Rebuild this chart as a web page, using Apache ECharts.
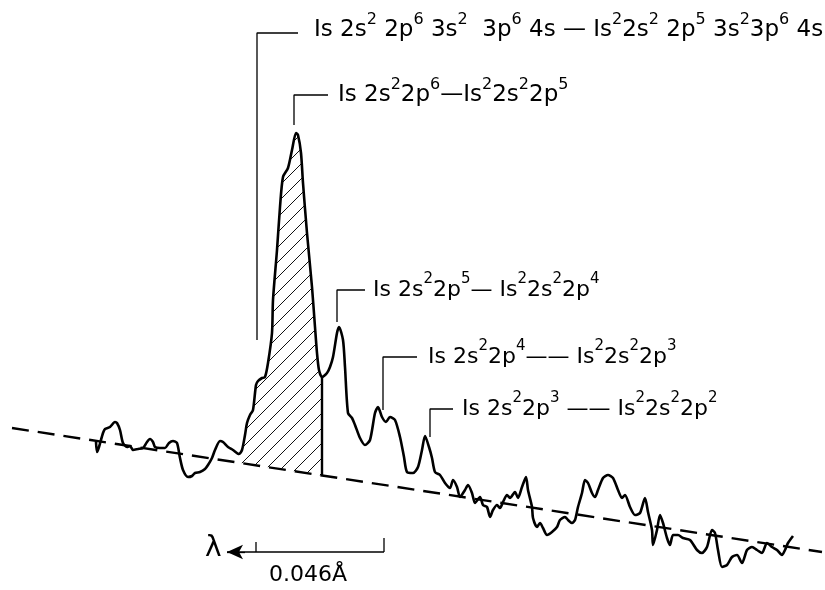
<!DOCTYPE html>
<html><head><meta charset="utf-8">
<script src="https://cdn.jsdelivr.net/npm/echarts@6/dist/echarts.min.js"></script>
<style>html,body{margin:0;padding:0;background:#fff}#c{width:825px;height:590px}</style>
</head><body><div id="c"></div>
<script>
// Spectrum trace (x: position along dispersion, y: intensity, arbitrary units)
const curveX = [96,97,99,103,105,110,115,117,120,123,127,130,133,138,143,147,150,153,155,160,165,169,173,177,180,183,188,192,195,200,205,208,212,215,220,223,228,233,239,242,245,247,250,253,256,258,262,265,268,272,273,277,280,283,288,292,296,298,301,303,307,312,315,317,319,322,327,330,333,337,339,343,345,348,352,355,360,365,370,375,378,382,386,390,395,400,404,407,413,418,422,425,429,432,435,440,445,450,453,457,460,465,468,472,475,480,483,487,490,493,497,500,503,507,510,515,518,522,526,528,532,533,537,540,543,547,552,557,560,565,568,572,575,578,582,585,588,592,595,598,603,608,613,618,622,625,630,635,640,645,648,652,653,657,660,663,667,670,673,678,683,690,697,702,707,712,715,718,722,727,732,737,742,747,752,757,762,767,772,777,782,785,788,793];
const curveY = [148,138,143,157,161,163,168,167,160,147,143,144,140,141,142,148,151,148,143,142,142,147,149,147,132,120,113,114,117,118,121,125,132,140,149,148,143,140,136,140,155,167,175,180,205,209,212,213,227,257,290,340,383,413,422,440,457,455,437,407,357,303,263,237,220,213,217,223,233,257,263,250,223,177,172,165,152,145,150,177,183,173,168,173,170,153,133,118,117,123,140,154,143,132,118,115,107,102,110,103,93,100,105,97,87,93,85,83,73,80,85,82,88,95,92,98,92,103,113,100,83,72,63,67,62,55,58,63,70,73,70,67,70,83,97,110,107,97,93,100,112,115,112,100,92,95,83,75,77,92,78,60,45,60,75,67,52,45,55,55,52,50,40,37,43,60,57,40,23,25,33,35,27,40,43,40,37,47,43,40,35,40,47,54];
// Sloping background (dashed)
const baselineX = [12, 822];
const baselineY = [162, 38];
// Hatched main line region
const hatchRange = [239, 322];
// Transition labels
const labelTexts = [
  'Is 2s{s|2} 2p{s|6} 3s{s|2}  3p{s|6} 4s — Is{s|2}2s{s|2} 2p{s|5} 3s{s|2}3p{s|6} 4s',
  'Is 2s{s|2}2p{s|6}—Is{s|2}2s{s|2}2p{s|5}',
  'Is 2s{s|2}2p{s|5}— Is{s|2}2s{s|2}2p{s|4}',
  'Is 2s{s|2}2p{s|4}—— Is{s|2}2s{s|2}2p{s|3}',
  'Is 2s{s|2}2p{s|3} —— Is{s|2}2s{s|2}2p{s|2}'
];
const labelX = [314, 338, 373, 428, 462];
const labelY = [560, 495, 300, 233, 181];
// Leader lines from peaks to labels
const leaders = [
  [[257,250],[257,557],[298,557]],
  [[294,465],[294,495],[328,495]],
  [[337,268],[337,300],[365,300]],
  [[383,180],[383,233],[417,233]],
  [[430,153],[430,181],[453,181]]
];
// Wavelength scale bar
const scaleBar = [[384,38],[227,38]];
const scaleTicks = [[[256,48],[256,38]], [[384,52],[384,38]]];
const scaleTexts = ['λ', '0.046Å'];
const scaleTextPos = [[205,41],[269,15]];

const curve = curveX.map((x, i) => [x, curveY[i]]);
const baseline = baselineX.map((x, i) => [x, baselineY[i]]);

function hatchPattern() {
  const c = document.createElement('canvas');
  c.width = 15; c.height = 15;
  const g = c.getContext('2d');
  g.strokeStyle = '#111'; g.lineWidth = 1;
  g.beginPath();
  g.moveTo(0, 15); g.lineTo(15, 0);
  g.moveTo(-3, 3); g.lineTo(3, -3);
  g.moveTo(12, 18); g.lineTo(18, 12);
  g.stroke();
  return c;
}
const pattern = { image: hatchPattern(), repeat: 'repeat' };
const FONT = 'DejaVu Sans';
const labelSizes = [23, 23, 22, 22, 22];

function baseAt(x) {
  const t = (x - baselineX[0]) / (baselineX[1] - baselineX[0]);
  return baselineY[0] + t * (baselineY[1] - baselineY[0]);
}

const chart = echarts.init(document.getElementById('c'), null, { renderer: 'canvas' });
const lineSeries = (data, width, extra) => Object.assign({
  type: 'line', data, symbol: 'none', silent: true, animation: false,
  lineStyle: { color: '#000', width }
}, extra || {});

const series = [
  {
    type: 'custom', silent: true, animation: false, z: 1,
    data: [[hatchRange[0], hatchRange[1]]],
    renderItem: (params, api) => {
      const a = api.value(0), b = api.value(1);
      const pts = curve.filter(p => p[0] >= a && p[0] <= b).map(p => api.coord(p));
      const bb = api.coord([b, baseAt(b)]);
      const ba = api.coord([a, baseAt(a)]);
      const top = api.coord([b, curve.find(p => p[0] === b)[1]]);
      return {
        type: 'group', children: [
          { type: 'polygon', shape: { points: pts.concat([bb, ba]) }, style: { fill: pattern, stroke: null } },
          { type: 'line', shape: { x1: top[0], y1: top[1], x2: bb[0], y2: bb[1] }, style: { stroke: '#000', lineWidth: 2.4 } }
        ]
      };
    }
  },
  lineSeries(baseline, 2.4, { z: 2, lineStyle: { color: '#000', width: 2.4, type: [17, 9] } }),
  lineSeries(curve, 2.6, { z: 3, smooth: 0.25 })
];
leaders.forEach(l => series.push(lineSeries(l, 1.3, { z: 4 })));
series.push(lineSeries(scaleBar, 1.3, {
  z: 4,
  markLine: {
    silent: true, animation: false, symbol: ['none', 'arrow'], symbolSize: [11, 16],
    lineStyle: { color: '#000', width: 1.3, type: 'solid' }, label: { show: false },
    data: [[{ coord: [245, 38] }, { coord: scaleBar[1] }]]
  }
}));
scaleTicks.forEach(t => series.push(lineSeries(t, 1.3, { z: 4 })));
series.push({
  type: 'custom', silent: true, animation: false, z: 5,
  data: labelX.map((x, i) => [x, labelY[i], i]),
  renderItem: (params, api) => {
    const p = api.coord([api.value(0), api.value(1)]);
    const i = api.value(2);
    const fs = labelSizes[i];
    return {
      type: 'text', x: p[0], y: p[1],
      style: {
        text: labelTexts[i], fill: '#000', fontFamily: FONT, fontSize: fs,
        align: 'left', verticalAlign: 'middle', lineHeight: 36,
        rich: { s: { fontSize: Math.round(fs * 0.68), lineHeight: 12, verticalAlign: 'top', fontFamily: FONT, fill: '#000' } }
      }
    };
  }
});
series.push({
  type: 'custom', silent: true, animation: false, z: 5,
  data: scaleTextPos.map((p, i) => [p[0], p[1], i]),
  renderItem: (params, api) => {
    const p = api.coord([api.value(0), api.value(1)]);
    const i = api.value(2);
    return {
      type: 'text', x: p[0], y: p[1],
      style: { text: scaleTexts[i], fill: '#000', fontFamily: FONT, fontSize: i === 0 ? 28 : 22, align: 'left', verticalAlign: 'middle' }
    };
  }
});

chart.setOption({
  animation: false,
  backgroundColor: '#fff',
  grid: { left: 0, right: 0, top: 0, bottom: 0 },
  xAxis: { type: 'value', min: 0, max: 825, show: false },
  yAxis: { type: 'value', min: 0, max: 590, show: false },
  series
});
</script></body></html>
